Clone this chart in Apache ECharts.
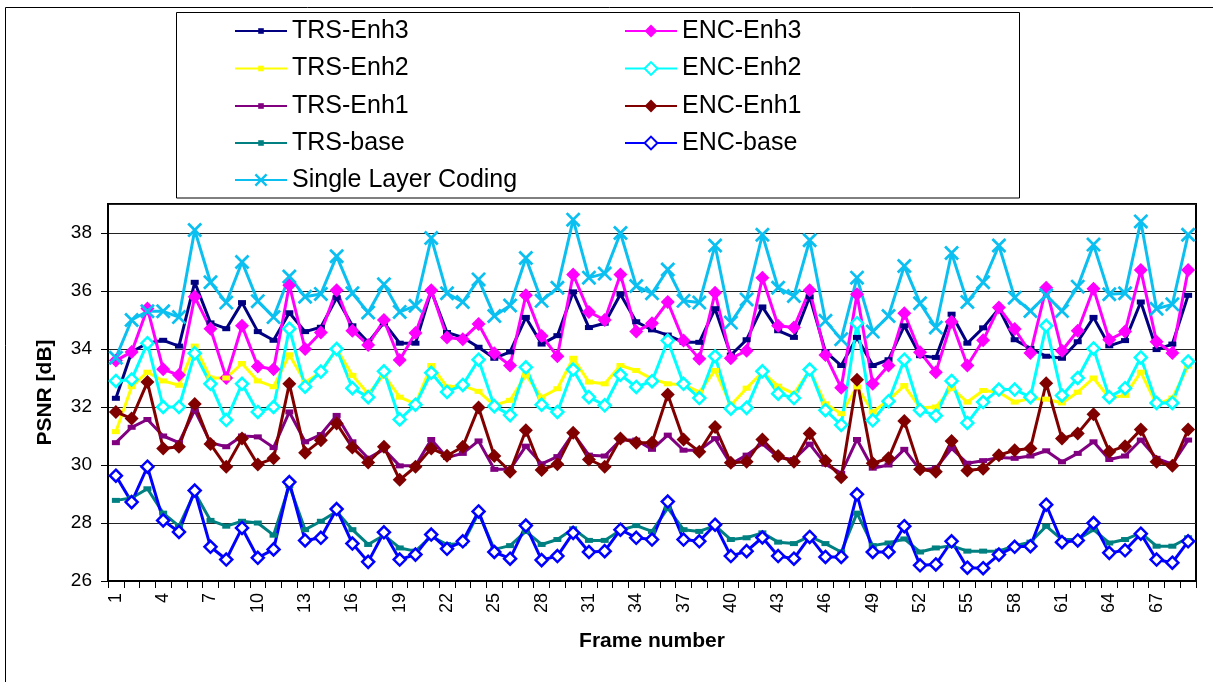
<!DOCTYPE html>
<html>
<head>
<meta charset="utf-8">
<script src="https://cdn.jsdelivr.net/npm/echarts@6/dist/echarts.min.js"></script>
<style>
html,body{margin:0;padding:0;background:#fff;}
#chart{width:1213px;height:682px;}
</style>
</head>
<body>
<div id="chart"></div>
<script>
var frames = [];
for (var i = 1; i <= 69; i++) frames.push(String(i));

var TRS_Enh3 = [32.3,33.9,34.2,34.3,34.1,36.3,34.9,34.7,35.6,34.6,34.3,35.25,34.6,34.75,35.77,34.8,34.23,34.91,34.2,34.2,36.0,34.57,34.4,34.06,33.68,33.9,35.09,34.17,34.46,35.97,34.74,34.89,35.89,34.94,34.66,34.48,34.23,34.23,35.39,33.79,34.32,35.45,34.63,34.4,35.8,33.91,33.43,34.4,33.43,33.63,34.8,33.77,33.71,35.2,34.2,34.73,35.39,34.32,34.02,33.75,33.68,34.25,35.09,34.11,34.29,35.62,33.98,34.17,35.85];
var ENC_Enh3 = [33.6,33.9,35.4,33.3,33.1,35.8,34.7,33.0,34.8,33.4,33.3,36.2,34.0,34.57,36.03,34.63,34.14,35.0,33.62,34.55,36.03,34.4,34.34,34.86,33.85,33.43,35.85,34.45,33.75,36.57,35.28,35.0,36.57,34.6,34.89,35.62,34.29,33.66,35.94,33.68,33.94,36.46,34.8,34.74,36.03,33.79,32.66,35.89,32.8,33.43,35.23,33.89,33.2,34.94,33.43,34.3,35.43,34.69,33.86,36.11,33.94,34.63,36.08,34.32,34.6,36.72,34.25,33.86,36.72];
var TRS_Enh2 = [31.15,32.7,33.2,32.9,32.75,34.1,33.0,33.0,33.5,32.9,32.7,33.8,32.85,33.2,34.0,33.09,32.46,33.1,32.34,32.11,33.43,32.69,32.74,32.54,32.06,32.23,33.1,32.34,32.63,33.68,32.86,32.8,33.43,33.26,32.97,32.8,32.77,32.51,33.26,32.06,32.65,33.2,32.72,32.46,33.26,32.11,31.77,32.69,31.83,32.23,32.74,31.97,32.0,32.65,32.17,32.57,32.51,32.17,32.29,32.27,32.14,32.51,33.0,32.31,32.4,33.2,32.08,32.31,33.41];
var ENC_Enh2 = [32.9,32.95,34.2,32.0,32.0,33.85,32.8,31.55,32.8,31.83,32.0,34.7,32.7,33.22,34.0,32.65,32.34,33.23,31.57,32.08,33.18,32.52,32.76,33.63,32.03,31.72,33.37,32.08,31.83,33.29,32.34,32.06,33.11,32.69,32.89,34.29,32.8,32.31,33.75,31.94,31.97,33.23,32.46,32.31,33.29,31.89,31.38,34.89,31.54,32.2,33.63,31.89,31.7,32.9,31.45,32.17,32.6,32.6,32.34,34.8,32.4,33.0,34.02,32.34,32.65,33.71,32.14,32.14,33.57];
var TRS_Enh1 = [30.77,31.3,31.57,31.0,30.77,31.89,30.77,30.63,31.0,30.97,30.6,31.83,30.8,31.05,31.71,30.8,30.23,30.54,29.97,29.97,30.88,30.26,30.4,30.83,29.85,29.85,30.65,30.04,30.29,31.09,30.34,30.31,30.86,30.86,30.54,31.03,30.51,30.51,30.91,30.03,30.34,30.73,30.26,30.19,30.72,30.03,29.71,30.88,29.89,30.0,30.54,29.83,29.89,30.57,30.06,30.15,30.26,30.23,30.31,30.49,30.11,30.4,30.8,30.19,30.31,30.86,30.23,30.03,30.86];
var ENC_Enh1 = [31.83,31.6,32.86,30.57,30.63,32.1,30.72,29.94,30.91,30.02,30.23,32.8,30.42,30.85,31.43,30.6,30.09,30.63,29.49,29.94,30.57,30.32,30.63,31.98,30.31,29.77,31.2,29.83,30.03,31.11,30.19,29.94,30.91,30.77,30.77,32.43,30.88,30.46,31.31,30.08,30.11,30.88,30.31,30.11,31.09,30.15,29.58,32.94,30.06,30.23,31.52,29.85,29.77,30.83,29.81,29.87,30.34,30.51,30.57,32.82,30.91,31.09,31.75,30.46,30.65,31.22,30.11,29.97,31.22];
var TRS_base = [28.78,28.86,29.18,28.34,27.89,29.05,28.09,27.89,28.06,28.0,27.58,29.29,27.77,28.06,28.4,27.77,27.26,27.58,27.14,27.03,27.54,27.26,27.29,28.34,27.09,27.22,27.71,27.26,27.43,27.8,27.4,27.4,27.75,27.91,27.71,28.51,27.77,27.71,27.91,27.43,27.49,27.66,27.34,27.29,27.54,27.29,27.0,28.34,27.22,27.31,27.45,27.0,27.14,27.22,27.03,27.03,27.03,27.22,27.34,27.89,27.43,27.43,27.77,27.31,27.43,27.66,27.2,27.2,27.49];
var ENC_base = [29.63,28.72,29.94,28.09,27.69,29.12,27.18,26.74,27.83,26.8,27.09,29.41,27.4,27.49,28.48,27.29,26.66,27.68,26.74,26.91,27.6,27.11,27.37,28.4,27.0,26.77,27.91,26.72,26.86,27.66,27.0,27.03,27.77,27.49,27.43,28.74,27.43,27.37,27.94,26.86,27.03,27.5,26.86,26.77,27.52,26.83,26.83,28.99,27.0,27.0,27.89,26.54,26.57,27.37,26.46,26.44,26.91,27.18,27.2,28.63,27.34,27.4,28.0,26.97,27.06,27.63,26.74,26.63,27.37];
var Single = [33.7,35.0,35.3,35.3,35.1,38.1,36.3,35.6,37.0,35.65,35.1,36.5,35.8,35.9,37.2,35.92,35.26,36.23,35.28,35.49,37.83,35.92,35.62,36.4,35.14,35.5,37.14,35.66,36.11,38.46,36.46,36.6,38.0,36.17,35.92,36.74,35.66,35.6,37.57,34.91,35.71,37.94,36.11,35.83,37.75,34.97,34.34,36.46,34.6,35.14,36.86,35.58,34.74,37.31,35.62,36.3,37.57,35.77,35.31,35.85,35.31,36.15,37.6,35.89,35.92,38.4,35.39,35.54,37.94];

var yTicks = {min: 26, max: 39, interval: 2};
var FONT = 'Liberation Sans, Arial, Helvetica, sans-serif';
var XPATH = 'path://M0,1.3 L1.3,0 L10,8.7 L8.7,10 Z M8.7,0 L10,1.3 L1.3,10 L0,8.7 Z';

function trs(name, data, color) {
  return {name: name, type: 'line', data: data, symbol: 'rect', symbolSize: [8, 5], showAllSymbol: true,
    lineStyle: {color: color, width: 3}, itemStyle: {color: color}};
}
function encFilled(name, data, color) {
  return {name: name, type: 'line', data: data, symbol: 'diamond', symbolSize: 14, showAllSymbol: true,
    lineStyle: {color: color, width: 3}, itemStyle: {color: color}};
}
function encHollow(name, data, color) {
  return {name: name, type: 'line', data: data, symbol: 'diamond', symbolSize: 12, showAllSymbol: true,
    lineStyle: {color: color, width: 3}, itemStyle: {color: '#ffffff', borderColor: color, borderWidth: 2.5}};
}

var series = [
  trs('TRS-Enh3', TRS_Enh3, '#000080'),
  encFilled('ENC-Enh3', ENC_Enh3, '#FF00FF'),
  trs('TRS-Enh2', TRS_Enh2, '#FFFF00'),
  encHollow('ENC-Enh2', ENC_Enh2, '#00FFFF'),
  trs('TRS-Enh1', TRS_Enh1, '#800080'),
  encFilled('ENC-Enh1', ENC_Enh1, '#800000'),
  trs('TRS-base', TRS_base, '#008080'),
  encHollow('ENC-base', ENC_base, '#0000FF'),
  {name: 'Single Layer Coding', type: 'line', data: Single, symbol: XPATH, symbolSize: 15, showAllSymbol: true,
    lineStyle: {color: '#0BC0F0', width: 3}, itemStyle: {color: '#0BC0F0'}}
];

var LEG_FS = 25;
function leg(name, left, center, ih) {
  return {data: [name], left: left, top: center - LEG_FS / 2, orient: 'vertical', padding: 0,
    itemWidth: 52, itemHeight: ih, selectedMode: false,
    textStyle: {fontSize: LEG_FS, color: '#000', fontFamily: FONT}};
}
var rows = [31, 68.5, 106, 143, 180];

var chart = echarts.init(document.getElementById('chart'), null, {renderer: 'canvas'});
chart.setOption({
  animation: false,
  backgroundColor: '#fff',
  textStyle: {fontFamily: FONT},
  graphic: [
    {type: 'rect', z: 0, shape: {x: 5.5, y: 7.5, width: 1400, height: 1000}, style: {fill: 'none', stroke: '#000', lineWidth: 1}},
    {type: 'rect', z: 0, shape: {x: 176.5, y: 12.5, width: 843, height: 185.5}, style: {fill: 'none', stroke: '#000', lineWidth: 1}}
  ],
  legend: [
    leg('TRS-Enh3', 234, rows[0], 7),
    leg('TRS-Enh2', 234, rows[1], 7),
    leg('TRS-Enh1', 234, rows[2], 7),
    leg('TRS-base', 234, rows[3], 7),
    leg('Single Layer Coding', 234, rows[4], 16),
    leg('ENC-Enh3', 624, rows[0], 16),
    leg('ENC-Enh2', 624, rows[1], 16),
    leg('ENC-Enh1', 624, rows[2], 16),
    leg('ENC-base', 624, rows[3], 16)
  ],
  grid: {left: 108, right: 17, top: 204, bottom: 101, show: true, borderColor: '#000', borderWidth: 2, backgroundColor: 'transparent'},
  xAxis: {
    type: 'category', data: frames, boundaryGap: true,
    name: 'Frame number', nameLocation: 'middle', nameGap: 50,
    nameTextStyle: {fontSize: 21, fontWeight: 'bold', color: '#000', fontFamily: FONT},
    axisLine: {show: true, lineStyle: {color: '#000', width: 2}},
    axisTick: {show: true, interval: 0, length: 7, lineStyle: {color: '#000', width: 1}},
    axisLabel: {interval: 2, rotate: 90, fontSize: 18, color: '#000', margin: 12, fontFamily: FONT},
    splitLine: {show: false}
  },
  yAxis: {
    type: 'value', min: yTicks.min, max: yTicks.max, interval: yTicks.interval,
    name: 'PSNR [dB]', nameLocation: 'middle', nameGap: 52,
    nameTextStyle: {fontSize: 21, fontWeight: 'bold', color: '#000', fontFamily: FONT},
    axisLine: {show: true, lineStyle: {color: '#000', width: 2}},
    axisTick: {show: true, length: 7, lineStyle: {color: '#000', width: 1}},
    axisLabel: {fontSize: 19, color: '#000', margin: 16, showMaxLabel: false, fontFamily: FONT},
    splitLine: {show: true, lineStyle: {color: '#222', width: 1}}
  },
  series: series
});
</script>
</body>
</html>
